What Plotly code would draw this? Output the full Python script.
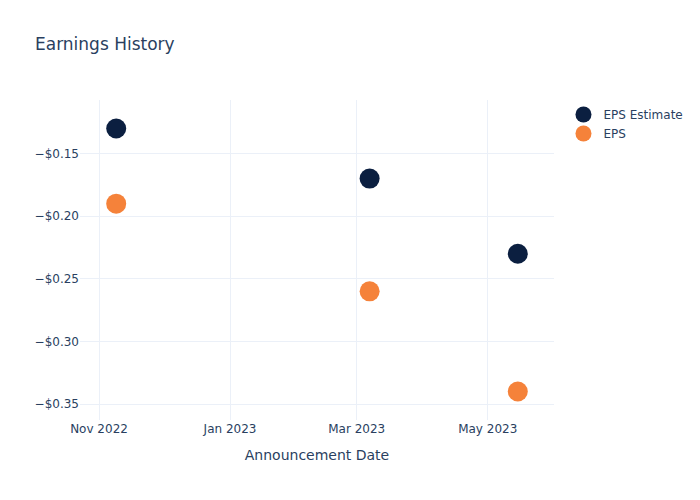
import plotly.graph_objects as go

dates = ["2022-11-09", "2023-03-07", "2023-05-15"]
eps_estimate = [-0.13, -0.17, -0.23]
eps_actual = [-0.19, -0.26, -0.34]

fig = go.Figure()
fig.add_trace(go.Scatter(x=dates, y=eps_estimate, mode="markers", name="EPS Estimate",
                         marker=dict(color="#0b1f40", size=20)))
fig.add_trace(go.Scatter(x=dates, y=eps_actual, mode="markers", name="EPS",
                         marker=dict(color="#f5823a", size=20)))
fig.update_layout(
    template="plotly_white",
    width=700, height=500,
    font=dict(family="DejaVu Sans"),
    title=dict(text="Earnings History"),
    xaxis=dict(title=dict(text="Announcement Date")),
    yaxis=dict(tickformat="$.2f"),
)
fig.write_html("out.html", config={"displayModeBar": False},
               post_script="document.body.style.margin='0';")
